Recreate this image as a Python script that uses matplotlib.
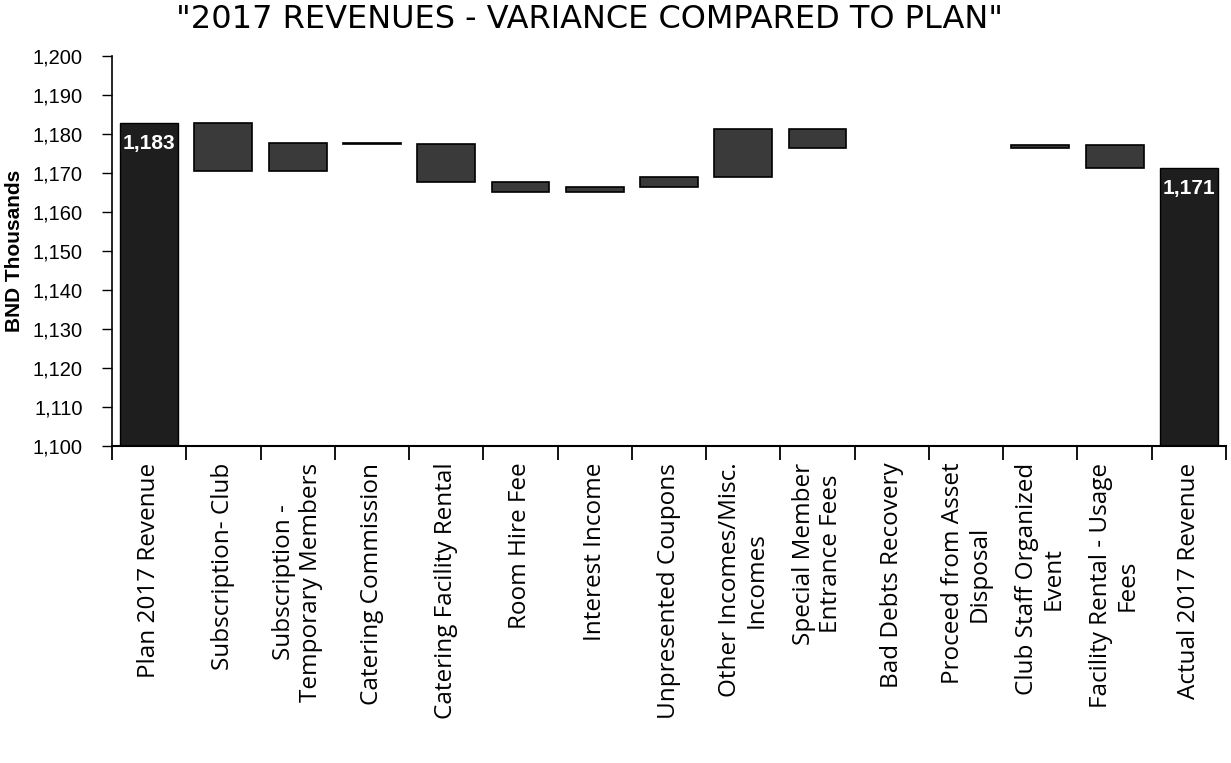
import matplotlib
matplotlib.use("Agg")
import matplotlib.pyplot as plt
import numpy as np

categories = ["Plan 2017 Revenue", "Subscription- Club", "Subscription -\nTemporary Members",
              "Catering Commission", "Catering Facility Rental", "Room Hire Fee",
              "Interest Income", "Unpresented Coupons", "Other Incomes/Misc.\nIncomes",
              "Special Member\nEntrance Fees", "Bad Debts Recovery", "Proceed from Asset\nDisposal",
              "Club Staff Organized\nEvent", "Facility Rental - Usage\nFees", "Actual 2017 Revenue"]
plan_value = 1182.9
variances = [-12.3, 7.0, -0.2, -9.8, -2.6, 1.3, 2.7, 12.4, -5.0, 0.0, 0.0, 0.7, -5.7]
actual_value = plan_value + sum(variances)
y_ticks = list(range(1100, 1201, 10))

fig = plt.figure(figsize=(12.31, 7.63), dpi=100)
ax = fig.add_axes([112/1231, 1-446/763, (1226-112)/1231, (446-56)/763])

x = np.arange(len(categories))
width = 0.78

ax.bar(x[0], plan_value - 1100, bottom=1100, width=width, color="#1e1e1e", edgecolor="black", lw=1)
ax.bar(x[-1], actual_value - 1100, bottom=1100, width=width, color="#1e1e1e", edgecolor="black", lw=1)

level = plan_value
for i, v in enumerate(variances, start=1):
    lo = min(level, level + v)
    h = abs(v)
    if h > 0:
        ax.bar(x[i], max(h, 0.35), bottom=lo, width=width, color="#3a3a3a", edgecolor="black", lw=1.2)
    level += v

for xi, val in [(x[0], plan_value), (x[-1], actual_value)]:
    ax.text(xi, val - 3.0, f"{round(val):,}", ha="center", va="top", color="white",
            fontsize=15, fontweight="bold", family="Liberation Sans")

ax.set_xlim(-0.5, len(categories) - 0.5)
ax.set_ylim(1100, 1200)
ax.set_yticks(y_ticks)
ax.set_yticklabels([f"{t:,}" for t in y_ticks], family="Liberation Sans", fontsize=14.5)
ax.tick_params(axis="y", direction="out", length=7, width=1, pad=14)

ax.set_xticks(x)
ax.set_xticklabels(categories, rotation=90, ha="center", va="top", multialignment="center",
                   family="Open Sans", fontsize=17.5, linespacing=1.15)
ax.tick_params(axis="x", length=0, pad=12)
ax.set_xticks(np.arange(-0.5, len(categories), 1), minor=True)
ax.tick_params(axis="x", which="minor", length=10, width=1.3, direction="out")

for s in ["top", "right"]:
    ax.spines[s].set_visible(False)
ax.spines["left"].set_linewidth(1.2)
ax.spines["bottom"].set_linewidth(1.5)

ax.set_ylabel("BND Thousands", family="Liberation Sans", fontsize=15, fontweight="bold", labelpad=6)

fig.text(590/1231, 1-20/763, '"2017 REVENUES - VARIANCE COMPARED TO PLAN"', ha="center", va="center",
         family="DejaVu Sans", fontsize=23)

fig.savefig("out.png", dpi=100)
